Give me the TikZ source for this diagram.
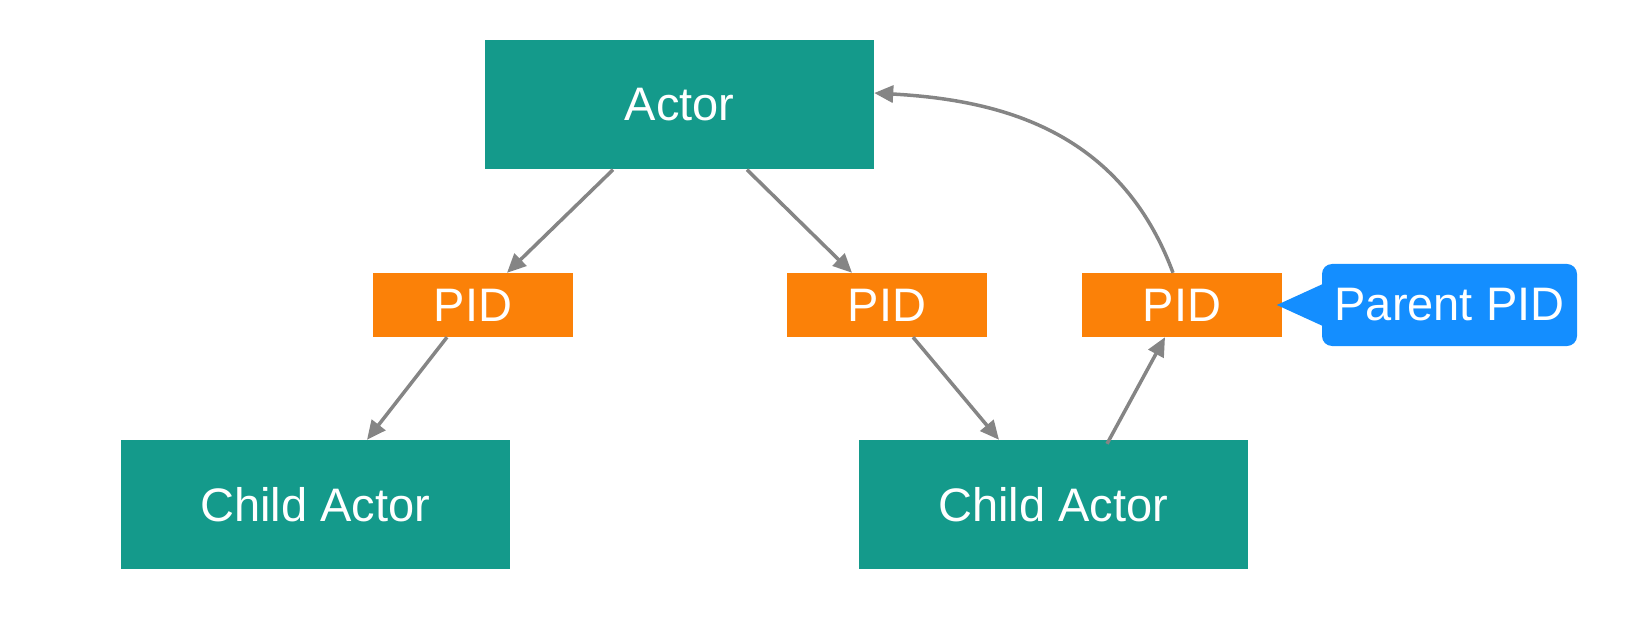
\documentclass[tikz,border=0pt]{standalone}
\usepackage{fontspec}
\setmainfont{Liberation Sans}
\usetikzlibrary{arrows.meta,calc}
\definecolor{teal1}{RGB}{20,154,139}
\definecolor{orange1}{RGB}{251,129,8}
\definecolor{blue1}{RGB}{20,142,255}
\definecolor{gray1}{RGB}{133,133,133}
\begin{document}
\begin{tikzpicture}[x=1pt,y=-1pt,
  actorbox/.style={fill=teal1,text=white,inner sep=0pt,minimum width=389pt,minimum height=129pt,font=\fontsize{47}{52}\selectfont},
  pidbox/.style={fill=orange1,text=white,inner sep=0pt,minimum width=200pt,minimum height=64pt,font=\fontsize{47}{52}\selectfont},
  callout/.style={fill=blue1,text=white,inner sep=0pt,minimum width=255pt,minimum height=82pt,rounded corners=10pt,font=\fontsize{47}{52}\selectfont},
  conn/.style={draw=gray1,line width=3.5pt,-{Triangle[length=19pt,width=17pt]}}]
\useasboundingbox (0,0) rectangle (1632,644);
\node[actorbox] (actor) at (679.5,105) {Actor};
\node[pidbox] (pid1) at (473,305) {PID};
\node[pidbox] (pid2) at (887,305) {PID};
\node[pidbox] (pid3) at (1182,305) {PID};
\node[actorbox] (child1) at (315,504.5) {Child Actor};
\node[actorbox] (child2) at (1053,504.5) {Child Actor};
\node[callout] (pp) at (1449.5,305) {Parent PID};
\fill[blue1] ($(pp.west)+(1,-21)$) -- ($(pp.west)+(-45,0)$) -- ($(pp.west)+(1,21)$) -- cycle;
\draw[conn] (actor.south -| 613,0) -- (pid1.north -| 507,0);
\draw[conn] (actor.south -| 747,0) -- (pid2.north -| 852,0);
\draw[conn] (pid1.south -| 447,0) -- (child1.north -| 367,0);
\draw[conn] (pid2.south -| 913,0) -- (child2.north -| 999,0);
\draw[conn] ($(child2.north -| 1107,0)+(0,4)$) -- (pid3.south -| 1165,0);
\draw[conn] (pid3.north -| 1173,0) .. controls (1120,130) and (1000,100) .. (actor.east |- 0,93);
\end{tikzpicture}
\end{document}
